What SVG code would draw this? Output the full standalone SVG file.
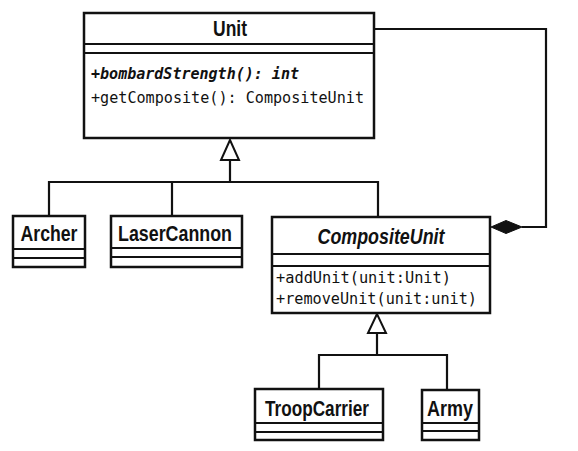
<svg xmlns="http://www.w3.org/2000/svg" width="578" height="451" viewBox="0 0 578 451">
<style>
.box{fill:#fff;stroke:#111;stroke-width:2.5}
.sep{stroke:#111;stroke-width:2;fill:none}
.line{stroke:#111;stroke-width:2.2;fill:none}
.name{font-family:"Liberation Sans",Arial,sans-serif;font-weight:bold;font-size:22px;fill:#111;text-anchor:middle}
.it{font-style:italic}
.op{font-family:"DejaVu Sans Mono","Liberation Mono",monospace;font-size:16px;fill:#111}
.tri{fill:#fff;stroke:#111;stroke-width:2}
</style>
<rect width="578" height="451" fill="#fff"/>
<g id="connectors">
  <polyline class="line" points="374,29 546,29 546,227 522,227"/>
  <polygon points="491,227 506,220.5 522,227 506,233.5" fill="#111" stroke="#111" stroke-width="1"/>
  <polyline class="line" points="230,160 230,182"/>
  <polyline class="line" points="49,216 49,182 378,182 378,217"/>
  <polyline class="line" points="172,182 172,216"/>
  <polygon class="tri" points="230,140 221,160 239,160"/>
  <polyline class="line" points="377,333 377,355"/>
  <polyline class="line" points="319,388 319,355 447,355 447,389"/>
  <polygon class="tri" points="377,314 368,333 386,333"/>
</g>
<g id="Unit">
  <rect class="box" x="84" y="13" width="290" height="125" stroke-width="3"/>
  <line class="sep" x1="84" y1="44" x2="374" y2="44"/>
  <line class="sep" x1="84" y1="53" x2="374" y2="53"/>
  <text class="name" x="230" y="36" textLength="34" lengthAdjust="spacingAndGlyphs">Unit</text>
  <text class="op" x="91" y="79" font-weight="bold" font-style="italic" textLength="208" lengthAdjust="spacingAndGlyphs">+bombardStrength(): int</text>
  <text class="op" x="91" y="103" textLength="273" lengthAdjust="spacingAndGlyphs">+getComposite(): CompositeUnit</text>
</g>
<g id="Archer">
  <rect class="box" x="13" y="216" width="72" height="51"/>
  <line class="sep" x1="13" y1="249" x2="85" y2="249"/>
  <line class="sep" x1="13" y1="258" x2="85" y2="258"/>
  <text class="name" x="49" y="241" textLength="57" lengthAdjust="spacingAndGlyphs">Archer</text>
</g>
<g id="LaserCannon">
  <rect class="box" x="111" y="216" width="131" height="51"/>
  <line class="sep" x1="111" y1="248" x2="242" y2="248"/>
  <line class="sep" x1="111" y1="257" x2="242" y2="257" stroke-width="3"/>
  <text class="name" x="175" y="241" textLength="114" lengthAdjust="spacingAndGlyphs">LaserCannon</text>
</g>
<g id="CompositeUnit">
  <rect class="box" x="272" y="217" width="218" height="96"/>
  <line class="sep" x1="272" y1="254" x2="490" y2="254" stroke-width="2.5"/>
  <line class="sep" x1="272" y1="266" x2="490" y2="266" stroke-width="2.5"/>
  <text class="name it" x="381" y="244" textLength="127" lengthAdjust="spacingAndGlyphs">CompositeUnit</text>
  <text class="op" x="276" y="283" textLength="175" lengthAdjust="spacingAndGlyphs">+addUnit(unit:Unit)</text>
  <text class="op" x="276" y="304" textLength="201" lengthAdjust="spacingAndGlyphs">+removeUnit(unit:unit)</text>
</g>
<g id="TroopCarrier">
  <rect class="box" x="255" y="389" width="128" height="51" stroke-width="3"/>
  <line class="sep" x1="255" y1="423" x2="383" y2="423"/>
  <line class="sep" x1="255" y1="432" x2="383" y2="432"/>
  <text class="name" x="317" y="416" textLength="104" lengthAdjust="spacingAndGlyphs">TroopCarrier</text>
</g>
<g id="Army">
  <rect class="box" x="422" y="390" width="57" height="50"/>
  <line class="sep" x1="422" y1="423" x2="479" y2="423"/>
  <line class="sep" x1="422" y1="431" x2="479" y2="431"/>
  <text class="name" x="450" y="416" textLength="46" lengthAdjust="spacingAndGlyphs">Army</text>
</g>
</svg>
